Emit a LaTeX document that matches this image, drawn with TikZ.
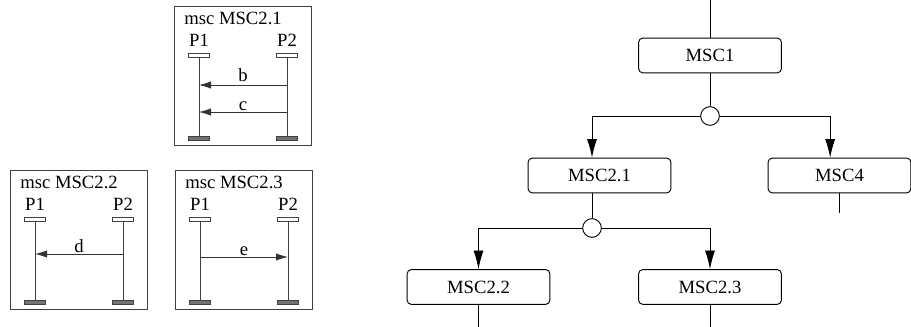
\documentclass[tikz,border=0pt]{standalone}
\usepackage{fontspec}
\setmainfont{Liberation Serif}
\usepackage{tikz}
\usetikzlibrary{arrows.meta}
\usetikzlibrary{calc}
\tikzstyle{treebox} = [draw,rounded corners=3pt,minimum width=107pt,minimum height=26pt,inner sep=0pt,line width=0.7pt]
\tikzstyle{joint} = [draw,shape=circle,fill=white,minimum size=14pt,inner sep=0pt,line width=0.7pt]
\tikzstyle{mscframe} = [draw=black!75,anchor=north west,minimum width=103pt,minimum height=104pt,inner sep=0pt,line width=0.6pt]
\tikzstyle{topbar} = [draw=black!75,fill=white,minimum width=16pt,minimum height=3pt,inner sep=0pt,line width=0.5pt]
\tikzstyle{endbar} = [draw=black!75,fill=black!55,minimum width=16pt,minimum height=3pt,inner sep=0pt,line width=0.5pt]
\tikzstyle{lifeline} = [draw=black!75,line width=0.6pt]
\tikzstyle{msgarrow} = [draw=black!80,line width=0.6pt,-{Latex[length=9pt,width=5.5pt]}]

\begin{document}
\begin{tikzpicture}[x=0.75pt,y=-0.75pt,>={Latex[length=14pt,width=7.5pt]},font=\fontsize{14}{16}\selectfont]
    \useasboundingbox (0,0) rectangle (911,327);

% Draw msc frames with their lifelines
    \foreach \f/\x/\y/\t in {A/174/6/MSC2.1, B/10/170/MSC2.2, C/175/170/MSC2.3} {
        \node[mscframe] (frame\f) at (\x,\y) {};
        \node[anchor=base west,inner sep=0pt] (title\f) at (\x+10,\y+19) {msc \t};
        \foreach \p/\dx in {1/25,2/113} {
            \node[anchor=base,inner sep=0pt] (P\p\f) at (\x+\dx,\y+41) {P\p};
            \node[topbar] (top\p\f) at (\x+\dx,\y+49) {};
            \node[endbar] (end\p\f) at (\x+\dx,\y+132) {};
            \draw[lifeline] (top\p\f) -- (end\p\f);
        }
    }

    % messages
    \draw[msgarrow] (top2A) ++(0,30) coordinate (b2) -- (b2 -| top1A) node[midway,above,inner sep=2pt] {b};
    \draw[msgarrow] (top2A) ++(0,57) coordinate (c2m) -- (c2m -| top1A) node[midway,above,inner sep=1pt] {c};
    \draw[msgarrow] (top2B) ++(0,35) coordinate (d2) -- (d2 -| top1B) node[midway,above,inner sep=1pt] {d};
    \draw[msgarrow] (top1C) ++(0,38) coordinate (e1) -- (e1 -| top2C) node[midway,above,inner sep=1pt] {e};

% Draw the tree of msc references
    \node[treebox] at (710,55.5) (m1) {MSC1};
    \node[joint] at (710,116) (c1) {};
    \node[treebox] at (599.5,175.5) (m21) {MSC2.1};
    \node[treebox] at (839.5,175.5) (m4) {MSC4};
    \node[joint] at (592,228) (c2) {};
    \node[treebox] at (478.5,287) (m22) {MSC2.2};
    \node[treebox] at (710,287) (m23) {MSC2.3};
    \coordinate (in1) at (710,0);
    \coordinate (out4) at (839.5,213);
    \coordinate (out22) at (478.5,327);
    \coordinate (out23) at (710,327);

    % join up
    \begin{scope}[line width=0.7pt]
    \draw (in1) -- (m1);
    \draw (m1) -- (c1);
    \draw[->] (c1) -| (c2 |- m21.north);
    \draw[->] (c1) -| ([xshift=-7pt]m4.north);
    \draw (c2 |- m21.south) -- (c2);
    \draw[->] (c2) -| (m22);
    \draw[->] (c2) -| (m23);
    \draw (m4) -- (out4);
    \draw (m22) -- (out22);
    \draw (m23) -- (out23);
    \end{scope}

\end{tikzpicture}
\end{document}
